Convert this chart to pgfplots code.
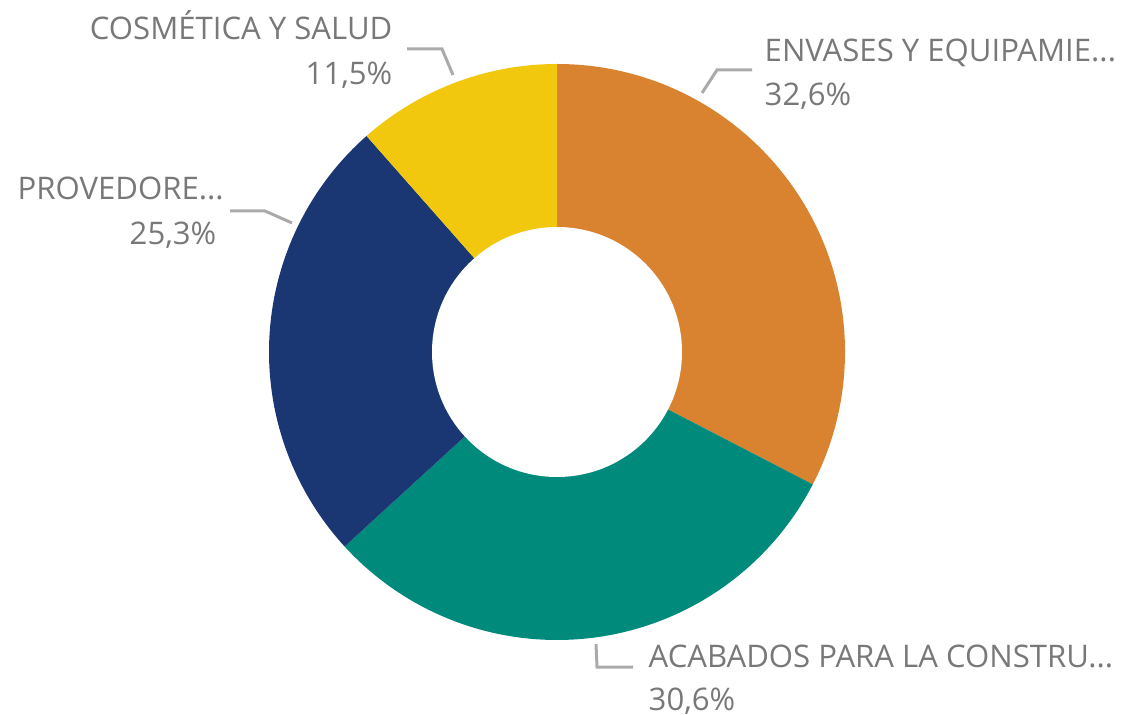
\documentclass[border=0pt]{standalone}
\usepackage{pgfplots}
\pgfplotsset{compat=1.18}
\usepackage{fontspec}
\setmainfont{Open Sans}
\definecolor{cEnv}{RGB}{217,130,48}
\definecolor{cAca}{RGB}{0,138,124}
\definecolor{cPro}{RGB}{27,55,115}
\definecolor{cCos}{RGB}{242,200,15}
\definecolor{txt}{RGB}{120,120,120}
\definecolor{lead}{RGB}{170,170,170}
% shares in percent, clockwise from 12 o'clock
\def\va{32.6}\def\vb{30.6}\def\vc{25.3}\def\vd{11.5}
\tikzset{lbl/.style={font=\fontsize{8.85}{10}\selectfont, text=txt, inner sep=0pt}}
\begin{document}
\begin{tikzpicture}
\begin{axis}[
  scale only axis, width=11.23cm, height=7.13cm,
  xmin=0, xmax=1123, ymin=0, ymax=713,
  hide axis, clip=false,
]
\addplot[draw=none] coordinates {(0,0)(1123,713)};
\path (axis cs:0,0) rectangle (axis cs:1123,713);
% slices
\fill[cEnv] (axis cs:557,361) -- ++(90:288) arc[start angle=90, end angle={90-3.6*\va}, radius=288] -- cycle;
\fill[cAca] (axis cs:557,361) -- ++({90-3.6*\va}:288) arc[start angle={90-3.6*\va}, end angle={90-3.6*(\va+\vb)}, radius=288] -- cycle;
\fill[cPro] (axis cs:557,361) -- ++({90-3.6*(\va+\vb)}:288) arc[start angle={90-3.6*(\va+\vb)}, end angle={90-3.6*(\va+\vb+\vc)}, radius=288] -- cycle;
\fill[cCos] (axis cs:557,361) -- ++({90-3.6*(\va+\vb+\vc)}:288) arc[start angle={90-3.6*(\va+\vb+\vc)}, end angle={-270}, radius=288] -- cycle;
\fill[white] (axis cs:557,361) circle[radius=125];
% leader lines
\draw[lead, line width=0.3mm] (axis cs:407,664) -- (axis cs:442,664) -- (axis cs:453,638);
\draw[lead, line width=0.3mm] (axis cs:752,643) -- (axis cs:717,643) -- (axis cs:702,620);
\draw[lead, line width=0.3mm] (axis cs:230,502) -- (axis cs:265,502) -- (axis cs:292,490);
\draw[lead, line width=0.3mm] (axis cs:596,69) -- (axis cs:597,46) -- (axis cs:633,46);
% labels
\node[lbl, anchor=base east] at (axis cs:393,673) {COSMÉTICA Y SALUD};
\node[lbl, anchor=base east] at (axis cs:393,628) {11,5\%};
\node[lbl, anchor=base west] at (axis cs:764,651) {ENVASES Y EQUIPAMIE...};
\node[lbl, anchor=base west] at (axis cs:764,607) {32,6\%};
\node[lbl, anchor=base west] at (axis cs:17,513) {PROVEDORE...};
\node[lbl, anchor=base east] at (axis cs:217,468) {25,3\%};
\node[lbl, anchor=base west] at (axis cs:648,46) {ACABADOS PARA LA CONSTRU...};
\node[lbl, anchor=base west] at (axis cs:648,3) {30,6\%};
\end{axis}
\end{tikzpicture}
\end{document}
